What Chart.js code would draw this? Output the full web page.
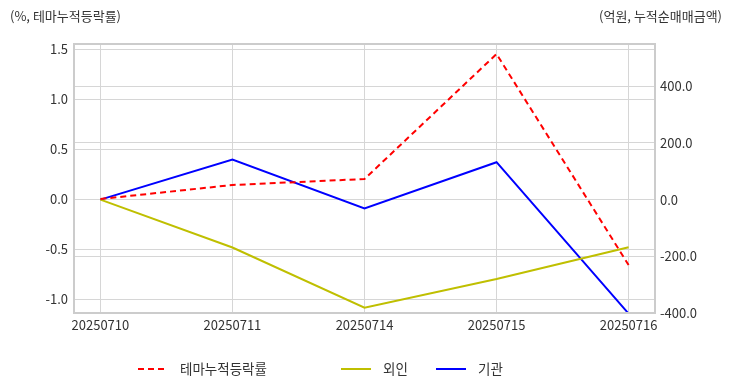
<!DOCTYPE html>
<html>
<head>
<meta charset="utf-8">
<script src="https://cdn.jsdelivr.net/npm/chart.js@4"></script>
<style>
  body { margin: 0; background: #fff; }
  #wrap { width: 732px; height: 392px; }
</style>
</head>
<body>
<div id="wrap"><canvas id="themeChart"></canvas></div>
<script>
// data
var dates = ['20250710', '20250711', '20250714', '20250715', '20250716']
var themeRate = [0.0, 0.14, 0.20, 1.45, -0.66]      // %, left axis
var foreign = [0, -169, -381, -280, -168]           // 억원, right axis
var institution = [0, 141, -31, 132, -402]          // 억원, right axis
var leftTicks = [-1.0, -0.5, 0.0, 0.5, 1.0, 1.5]
var rightTicks = [-400, -200, 0, 200, 400]

var FONT = "'Noto Sans CJK KR', 'Noto Sans', sans-serif"
var TEXT = '#333'
var GRID = '#d6d6d6'

function pts(arr) {
    return arr.map(function (v, i) { return { x: i, y: v } })
}

// MARK: titles, frame and legend drawn on canvas
var extras = {
    id: 'extras',
    afterDraw: function (chart) {
        var ctx = chart.ctx
        var a = chart.chartArea
        ctx.save()
        ctx.strokeStyle = '#cccccc'
        ctx.lineWidth = 2
        ctx.strokeRect(a.left, a.top, a.right - a.left, a.bottom - a.top)

        ctx.fillStyle = TEXT
        ctx.font = '13px ' + FONT
        ctx.textBaseline = 'middle'
        ctx.textAlign = 'left'
        ctx.fillText('(%, 테마누적등락률)', 10, 16)
        ctx.textAlign = 'right'
        ctx.fillText('(억원, 누적순매매금액)', 722, 16)

        // legend
        var starts = [138, 341, 436]
        ctx.textAlign = 'left'
        ctx.font = '13.5px ' + FONT
        chart.data.datasets.forEach(function (ds, i) {
            var x = starts[i], y = 369
            ctx.strokeStyle = ds.borderColor
            ctx.lineWidth = 2
            ctx.setLineDash(ds.borderDash || [])
            ctx.beginPath()
            ctx.moveTo(x, y)
            ctx.lineTo(x + 30, y)
            ctx.stroke()
            ctx.setLineDash([])
            ctx.fillStyle = TEXT
            ctx.fillText(ds.label, x + 42, y)
        })
        ctx.restore()
    }
}

var ctx = document.getElementById('themeChart')
var myChart = new Chart(ctx, {
    type: 'line',
    data: {
        datasets: [{
            label: '테마누적등락률',
            data: pts(themeRate),
            yAxisID: 'y',
            borderColor: '#ff0000',
            borderDash: [6, 4],
            borderWidth: 2
        }, {
            label: '외인',
            data: pts(foreign),
            yAxisID: 'y1',
            borderColor: '#bfbf00',
            borderWidth: 2
        }, {
            label: '기관',
            data: pts(institution),
            yAxisID: 'y1',
            borderColor: '#0000ff',
            borderWidth: 2
        }]
    },
    options: {
        responsive: true,
        maintainAspectRatio: false,
        animation: false,
        layout: { padding: { top: 44, left: 0, right: 0, bottom: 0 } },
        elements: { point: { radius: 0 }, line: { tension: 0 } },
        plugins: { legend: { display: false }, tooltip: { enabled: false } },
        scales: {
            x: {
                type: 'linear',
                min: -0.2,
                max: 4.2,
                afterBuildTicks: function (s) { s.ticks = dates.map(function (d, i) { return { value: i } }) },
                afterFit: function (s) { s.height = 79 },
                ticks: {
                    callback: function (v) { return dates[v] },
                    color: TEXT, font: { family: FONT, size: 13 }, padding: 4, maxRotation: 0
                },
                grid: { color: GRID, drawTicks: false },
                border: { display: false }
            },
            y: {
                position: 'left',
                min: -1.14,
                max: 1.55,
                afterBuildTicks: function (s) { s.ticks = leftTicks.map(function (v) { return { value: v } }) },
                afterFit: function (s) { s.width = 74 },
                ticks: {
                    callback: function (v) { return v.toFixed(1) },
                    color: TEXT, font: { family: FONT, size: 13 }, padding: 6
                },
                grid: { color: GRID, drawTicks: false },
                border: { display: false }
            },
            y1: {
                position: 'right',
                min: -400,
                max: 549,
                afterBuildTicks: function (s) { s.ticks = rightTicks.map(function (v) { return { value: v } }) },
                afterFit: function (s) { s.width = 77 },
                ticks: {
                    callback: function (v) { return v.toFixed(1) },
                    color: TEXT, font: { family: FONT, size: 13 }, padding: 5
                },
                grid: { color: GRID, drawTicks: false },
                border: { display: false }
            }
        }
    },
    plugins: [extras]
});
</script>
</body>
</html>
